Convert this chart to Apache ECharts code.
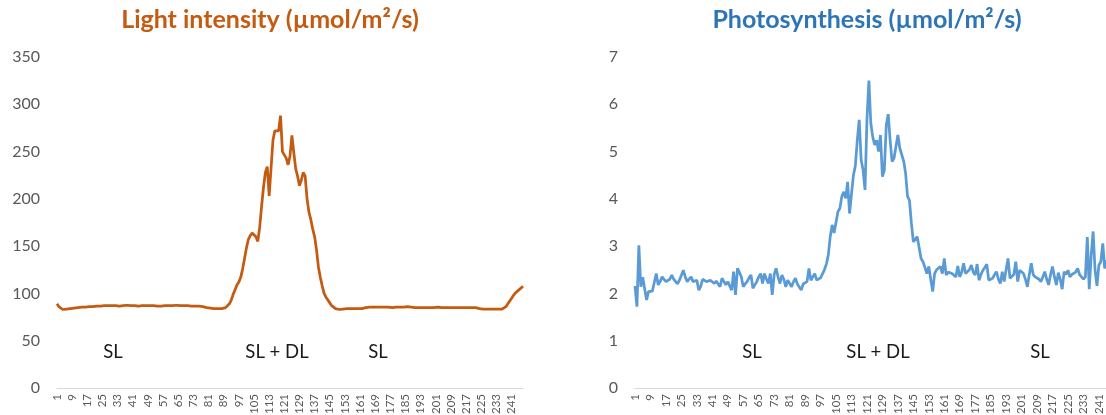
<!DOCTYPE html>
<html>
<head>
<meta charset="utf-8">
<script src="https://cdn.jsdelivr.net/npm/echarts@6/dist/echarts.min.js"></script>
<style>
html, body { margin: 0; padding: 0; background: #fff; overflow: hidden; }
#chart { width: 1106px; height: 415px; }
</style>
</head>
<body>
<div id="chart"></div>
<script>
// light intensity, one value per reading
var lightValues = [
    89, 86, 84, 83, 83, 83.5, 84, 84, 84.5, 84.5,
    85, 85, 85, 85.5, 85.5, 85.5, 86, 86, 86, 86,
    86.5, 86.5, 86.5, 86.5, 86.5, 87, 87, 87, 87, 87,
    87, 87, 86.5, 86.5, 87, 87, 87.5, 87.5, 87, 87,
    87, 87, 86.5, 86.5, 87, 87, 87, 87, 87, 87,
    87, 87, 86.5, 86.5, 86.5, 86.5, 86.5, 87, 87, 87,
    87, 87, 87.5, 87.5, 87.5, 87, 87, 87, 87, 87,
    86.5, 86.5, 86.5, 86.5, 86, 86.5, 86, 86, 85.5, 85,
    84.5, 84.5, 84.5, 84, 84, 84, 84, 84, 84.5, 85,
    86.5, 89, 93, 99, 104, 109, 112, 117, 126, 137,
    148, 157, 161, 164, 165, 160, 155, 170, 192, 212,
    228, 234, 203, 204, 262, 272, 273, 272, 288, 250,
    251, 243, 236, 245, 267, 249, 232, 224, 214, 220,
    228, 224, 200, 186, 178, 168, 160, 146, 128, 117,
    108, 100, 96, 93, 90, 87, 85, 84, 83.5, 83,
    83, 83.5, 84, 84, 84, 84, 84, 84, 84, 84,
    84, 84, 84.5, 85, 85.5, 85.5, 85.5, 85.5, 85.5, 85.5,
    85.5, 85.5, 85.5, 85.5, 85.5, 85.5, 85, 85, 85.5, 85.5,
    85.5, 85.5, 85.5, 85.5, 86, 86, 85.5, 85.5, 85.5, 85,
    85, 85, 85, 85, 85, 85, 85, 85, 85, 85,
    85.5, 85.5, 85.5, 85, 85, 85, 85, 85, 85, 85,
    85, 85, 85, 85, 85, 85, 85, 85, 85, 85,
    85, 85, 85, 84, 83.5, 83.5, 83.5, 83.5, 83.5, 83.5,
    83.5, 83.5, 83.5, 83.5, 83.5, 83.5, 84, 86, 89, 92,
    95, 98, 100.5, 102, 104, 106, 107.5
];

// photosynthesis, same readings
var photoValues = [
    2.16, 1.72, 3.02, 2.14, 2.34, 2.1, 1.86, 2.04, 2.04, 2.05,
    2.07, 2.42, 2.18, 2.25, 2.35, 2.38, 2.25, 2.28, 2.3, 2.39,
    2.3, 2.32, 2.2, 2.28, 2.3, 2.49, 2.35, 2.25, 2.3, 2.35,
    2.25, 2.21, 2.28, 2.07, 2.15, 2.3, 2.32, 2.25, 2.27, 2.28,
    2.26, 2.21, 2.26, 2.28, 2.14, 2.32, 2.28, 2.18, 2.25, 2.28,
    2.07, 2.46, 1.97, 2.53, 2.45, 2.35, 2.14, 2.2, 2.25, 2.33,
    2.39, 2.11, 2.18, 2.25, 2.35, 2.42, 2.21, 2.42, 2.3, 2.21,
    2.42, 1.97, 2.4, 2.53, 2.35, 2.21, 2.39, 2.3, 2.14, 2.28,
    2.25, 2.14, 2.25, 2.32, 2.2, 2.18, 2.07, 2.2, 2.23, 2.25,
    2.53, 2.28, 2.35, 2.42, 2.28, 2.32, 2.33, 2.34, 2.5, 2.62,
    2.81, 3.2, 3.45, 3.28, 3.3, 3.73, 3.8, 4.05, 4.15, 4.01,
    4.36, 3.69, 4.1, 4.5, 4.7, 5.24, 5.67, 4.82, 4.61, 4.19,
    5.67, 6.5, 5.6, 5.31, 5.14, 5.24, 5.0, 5.35, 4.47, 4.61,
    5.56, 5.79, 5.24, 4.79, 4.86, 4.86, 5.35, 5.07, 5.03, 4.8,
    4.54, 4.05, 3.97, 3.48, 3.09, 3.09, 3.2, 3.23, 2.74, 2.67,
    2.55, 2.42, 2.57, 2.3, 2.04, 2.42, 2.5, 2.53, 2.57, 2.42,
    2.74, 2.39, 2.45, 2.49, 2.42, 2.4, 2.35, 2.58, 2.35, 2.45,
    2.64, 2.42, 2.45, 2.5, 2.6, 2.45, 2.39, 2.62, 2.28, 2.4,
    2.49, 2.55, 2.62, 2.28, 2.3, 2.32, 2.4, 2.46, 2.3, 2.21,
    2.46, 2.25, 2.5, 2.74, 2.32, 2.35, 2.4, 2.67, 2.25, 2.49,
    2.45, 2.42, 2.3, 2.14, 2.4, 2.64, 2.4, 2.35, 2.39, 2.3,
    2.25, 2.35, 2.46, 2.3, 2.18, 2.4, 2.57, 2.35, 2.18, 2.44,
    2.3, 2.09, 2.46, 2.4, 2.49, 2.35, 2.4, 2.42, 2.45, 2.53,
    2.4, 2.35, 2.3, 2.35, 3.19, 2.09, 2.8, 3.31, 2.5, 2.16,
    2.6, 2.67, 3.06, 2.53, 2.7, 2.6, 2.55
];

var days = lightValues.map(function (v, i) { return String(i + 1); });
var lightTicks = [0, 50, 100, 150, 200, 250, 300, 350];
var photoTicks = [0, 1, 2, 3, 4, 5, 6, 7];

var fontFam = 'Lato, "Open Sans", sans-serif';

function xAxisFor(idx) {
    return {
        type: 'category', gridIndex: idx, data: days, boundaryGap: false,
        axisLine: { lineStyle: { color: '#d9d9d9', width: 1 } },
        axisTick: { show: false },
        axisLabel: { interval: 7, rotate: 90, margin: 6, fontSize: 11.5, color: '#595959', fontFamily: fontFam },
        splitLine: { show: false }
    };
}
function yAxisFor(idx, ticks) {
    return {
        type: 'value', gridIndex: idx,
        min: ticks[0], max: ticks[ticks.length - 1], interval: ticks[1] - ticks[0],
        axisLine: { show: false }, axisTick: { show: false },
        axisLabel: { margin: 17, fontSize: 16, color: '#595959', fontFamily: fontFam },
        splitLine: { show: false }
    };
}
function note(txt, x, y) {
    return { type: 'text', x: x, y: y, silent: true,
        style: { text: txt, fill: '#1a1a1a', font: '18.5px ' + fontFam, align: 'center', verticalAlign: 'middle' } };
}

var myChart = echarts.init(document.getElementById('chart'));
myChart.setOption({
    animation: false,
    backgroundColor: '#fff',
    grid: [
        { left: 57, top: 57, width: 466, height: 331, containLabel: false, outerBoundsMode: 'none' },
        { left: 635, top: 57, width: 475.5, height: 331, containLabel: false, outerBoundsMode: 'none' }
    ],
    xAxis: [xAxisFor(0), xAxisFor(1)],
    yAxis: [yAxisFor(0, lightTicks), yAxisFor(1, photoTicks)],
    series: [
        { type: 'line', xAxisIndex: 0, yAxisIndex: 0, data: lightValues, showSymbol: false,
          lineStyle: { color: '#C55A11', width: 2.75 }, itemStyle: { color: '#C55A11' } },
        { type: 'line', xAxisIndex: 1, yAxisIndex: 1, data: photoValues, showSymbol: false,
          lineStyle: { color: '#5B9BD5', width: 2.75 }, itemStyle: { color: '#5B9BD5' } }
    ],
    graphic: [
        { type: 'text', x: 270, y: 20, style: { text: 'Light intensity (µmol/m²/s)', fill: '#C55A11',
          font: 'bold 25px ' + fontFam, align: 'center', verticalAlign: 'middle' } },
        { type: 'text', x: 867, y: 20, style: { text: 'Photosynthesis (µmol/m²/s)', fill: '#2E75B6',
          font: 'bold 25px ' + fontFam, align: 'center', verticalAlign: 'middle' } },
        note('SL', 113, 352),
        note('SL + DL', 277, 352),
        note('SL', 378, 352),
        note('SL', 752, 352),
        note('SL + DL', 878, 352),
        note('SL', 1040, 352)
    ]
});
</script>
</body>
</html>
